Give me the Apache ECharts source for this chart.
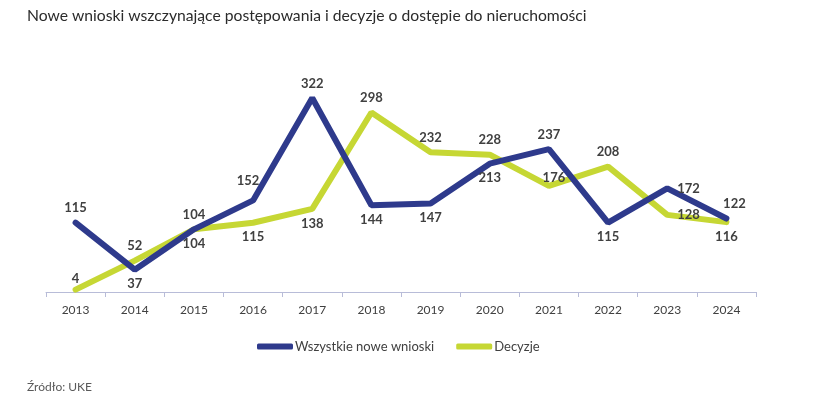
<!DOCTYPE html>
<html><head><meta charset="utf-8">
<script src="https://cdn.jsdelivr.net/npm/echarts@6/dist/echarts.min.js"></script>
<style>html,body{margin:0;padding:0;background:#fff}#c{width:834px;height:398px}</style>
</head><body><div id="c"></div>
<script>
var years = ['2013','2014','2015','2016','2017','2018','2019','2020','2021','2022','2023','2024'];
var wnioski = [115,37,104,152,322,144,147,213,237,115,172,122];
var decyzje = [4,52,104,115,138,298,232,228,176,208,128,116];
var wnioskiLabelPos = ['top','bottom','top','top','top','bottom','bottom','bottom','top','bottom','right','top'];
var decyzjeLabelPos = ['top','top','bottom','bottom','bottom','top','top','top','top','top','right','bottom'];
var wnioskiOffset = {3:[-5,-5],10:[2,0],11:[8,0]};
var decyzjeOffset = {0:[0,4],8:[5,6],10:[2,0]};

function build(vals, pos, offs){
  return vals.map(function(v,i){
    var l = {position: pos[i]};
    if (offs[i]) l.offset = offs[i];
    return {value: v, label: l};
  });
}
var labelStyle = {show:true, color:'#404040', fontWeight:'bold', fontSize:13, fontFamily:'Lato', distance:7};
var chart = echarts.init(document.getElementById('c'));
chart.setOption({
  animation:false,
  title:{text:'Nowe wnioski wszczynające postępowania i decyzje o dostępie do nieruchomości', left:22, top:3,
    textStyle:{fontFamily:'Lato', fontSize:15.7, fontWeight:'normal', color:'#2b2b2b'}},
  graphic:[{type:'text', left:27, top:381, style:{text:'Źródło: UKE', font:'12px Lato', fill:'#595959'}}],
  legend:{top:335, left:252, itemWidth:36, itemHeight:6, itemGap:22, icon:'roundRect',
    textStyle:{fontFamily:'Lato', fontSize:13, color:'#404040', padding:[0,0,0,-3]},
    data:['Wszystkie nowe wnioski','Decyzje']},
  grid:{left:46, right:78, top:51, height:241},
  xAxis:{type:'category', data:years, boundaryGap:true,
    axisLine:{lineStyle:{color:'#b8bcd8', width:1}},
    axisTick:{show:true, length:5, lineStyle:{color:'#b8bcd8'}},
    axisLabel:{color:'#404040', fontFamily:'Lato', fontSize:12, margin:12}},
  yAxis:{type:'value', min:0, max:400, show:false, splitLine:{show:false}},
  series:[
    {name:'Wszystkie nowe wnioski', type:'line', data:build(wnioski, wnioskiLabelPos, wnioskiOffset),
      symbol:'circle', symbolSize:2, showSymbol:true, lineStyle:{color:'#2e3a8c', width:6, cap:'round'}, itemStyle:{color:'#2e3a8c'},
      label:labelStyle, z:3},
    {name:'Decyzje', type:'line', data:build(decyzje, decyzjeLabelPos, decyzjeOffset),
      symbol:'circle', symbolSize:2, showSymbol:true, lineStyle:{color:'#c6d734', width:6, cap:'round'}, itemStyle:{color:'#c6d734'},
      label:labelStyle, z:2}
  ]
});
</script></body></html>
